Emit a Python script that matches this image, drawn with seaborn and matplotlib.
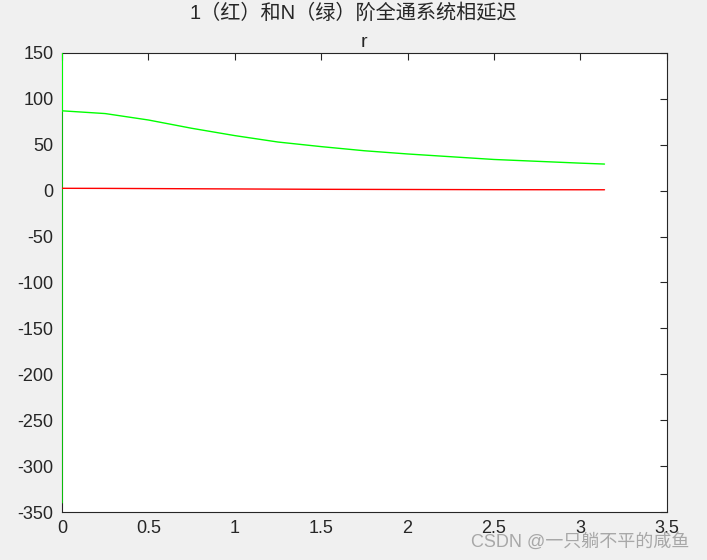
import numpy as np
import pandas as pd
import matplotlib
matplotlib.use("Agg")
import matplotlib.pyplot as plt
import seaborn as sns

# data
w_red = [0, 0.25, 0.5, 0.75, 1.0, 1.25, 1.5, 1.75, 2.0, 2.25, 2.5, 2.75, 3.0, 3.14]
delay_red = [2.6, 2.5, 2.3, 2.1, 1.9, 1.7, 1.5, 1.4, 1.3, 1.2, 1.1, 1.05, 1.0, 1.0]
w_green = [0, 0, 0, 0.25, 0.5, 0.75, 1.0, 1.25, 1.5, 1.75, 2.0, 2.25, 2.5, 2.75, 3.0, 3.14]
delay_green = [-340, 400, 87, 84, 77, 68, 60, 53, 48, 43.5, 40, 37, 34, 32, 30, 29]
xticks = [0, 0.5, 1, 1.5, 2, 2.5, 3, 3.5]
yticks = [-350, -300, -250, -200, -150, -100, -50, 0, 50, 100, 150]

sns.set_theme(style="white")
plt.rcParams['font.family'] = ['Liberation Sans', 'Noto Sans CJK SC', 'DejaVu Sans']
plt.rcParams['axes.unicode_minus'] = False

fig = plt.figure(figsize=(7.07, 5.6), dpi=100, facecolor="#f0f0f0")
ax = fig.add_axes([0.0877, 0.0857, 0.8553, 0.8197])
ax.set_facecolor("white")

df_r = pd.DataFrame({"w": w_red, "d": delay_red})
df_g = pd.DataFrame({"w": w_green, "d": delay_green})
sns.lineplot(data=df_g, x="w", y="d", ax=ax, color="#00ff00", lw=1.0,
             sort=False, estimator=None, zorder=4)
sns.lineplot(data=df_r, x="w", y="d", ax=ax, color="#ff0000", lw=1.0,
             sort=False, estimator=None, zorder=4)

ax.set_xlim(0, 3.5)
ax.set_ylim(-350, 150)
ax.set_xticks(xticks)
ax.set_xticklabels([f"{t:g}" for t in xticks])
ax.set_yticks(yticks)
ax.set_xlabel("")
ax.set_ylabel("")
ax.tick_params(direction="in", length=5, width=0.8, color="#262626",
               labelsize=13, labelcolor="#262626", top=True, right=True,
               pad=6)
for s in ax.spines.values():
    s.set_color("#262626")
    s.set_linewidth(0.8)

ax.set_title("r", fontsize=14, color="#262626", pad=4)
fig.text(0.5, 0.977, "1（红）和N（绿）阶全通系统相延迟", ha="center", va="center",
         fontsize=14.5, color="#262626")
fig.text(0.975, 0.033, "CSDN @一只躺不平的咸鱼", ha="right", va="center",
         fontsize=13, color="#a0a0a0", alpha=0.9)

fig.savefig("out.png", dpi=100, facecolor=fig.get_facecolor())
